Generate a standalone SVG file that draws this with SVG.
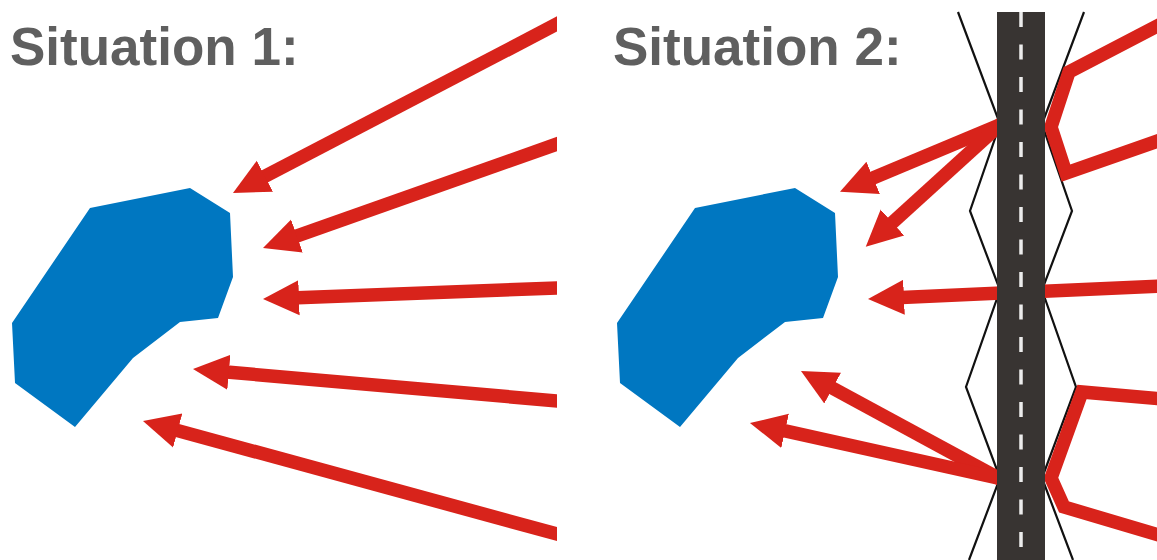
<svg xmlns="http://www.w3.org/2000/svg" width="1157" height="560" viewBox="0 0 1157 560">
  <style>
    .title { font-family: "Liberation Sans", Arial, sans-serif; font-weight: bold; font-size: 53px; fill: #5f5f5f; }
    .blob { fill: #0077c1; }
    .arrow { stroke: #d8231b; stroke-width: 13.5; fill: none; stroke-linecap: butt; marker-end: url(#ah); }
    .route { stroke: #d8231b; stroke-width: 13.5; fill: none; stroke-linejoin: miter; stroke-miterlimit: 10; }
    .zig { stroke: #111111; stroke-width: 2.2; fill: none; stroke-linejoin: miter; }
    .road { fill: #383432; }
    .lane { stroke: #ececec; stroke-width: 3.5; stroke-dasharray: 15 17.5; }
  </style>
  <defs>
    <marker id="ah" markerUnits="userSpaceOnUse" markerWidth="38" markerHeight="38" viewBox="0 -19 38 38" refX="8" refY="0" orient="auto">
      <path d="M0,-17.5 L36,0 L0,17.5 z" fill="#d8231b"/>
    </marker>
    <clipPath id="leftClip">
      <rect x="0" y="0" width="557" height="560"/>
    </clipPath>
    <polygon id="blobShape" points="90,208 190,188 230,213 233,277 218,318 180,322 133,358 75,427 15,383 12,323"/>
  </defs>
  <rect width="1157" height="560" fill="#ffffff"/>

  <g id="title1"><text class="title" x="10" y="65">Situation 1:</text></g>
  <g id="title2"><text class="title" x="613" y="65">Situation 2:</text></g>

  <g id="area1"><use href="#blobShape" class="blob"/></g>
  <g id="area2"><use href="#blobShape" class="blob" transform="translate(605,0)"/></g>

  <g id="zigzags">
    <polyline class="zig" points="958,12 1000,124 970,211 1000,290 966,387 1000,478 969,560"/>
    <polyline class="zig" points="1084,12 1042,124 1072,211 1042,290 1076,387 1042,478 1073,560"/>
  </g>

  <g id="connectors">
    <g id="connectors-left" clip-path="url(#leftClip)">
      <line class="arrow" x1="570" y1="17.2" x2="257.8" y2="180"/>
      <line class="arrow" x1="570" y1="139.4" x2="289.4" y2="238.7"/>
      <line class="arrow" x1="570" y1="287.5" x2="291" y2="298"/>
      <line class="arrow" x1="570" y1="402.1" x2="220.9" y2="371.5"/>
      <line class="arrow" x1="570" y1="537.6" x2="170" y2="428.4"/>
    </g>
    <g id="connectors-right">
      <line class="arrow" x1="1002" y1="124" x2="865.8" y2="181"/>
      <line class="arrow" x1="1002" y1="123" x2="886.5" y2="227.9"/>
      <line class="arrow" x1="1160" y1="286" x2="896" y2="297.7"/>
      <line class="arrow" x1="1002" y1="480" x2="825.6" y2="384.4"/>
      <line class="arrow" x1="1002" y1="479" x2="777.3" y2="429.1"/>
      <polyline class="route" points="1162,23.5 1069,72 1051,127 1066,173 1162,139.5"/>
      <polyline class="route" points="1162,399 1082,392 1051,478 1064,507 1162,536"/>
    </g>
  </g>

  <g id="road">
    <rect class="road" x="997" y="12" width="48" height="548"/>
    <line class="lane" x1="1021" y1="12" x2="1021" y2="560"/>
  </g>
</svg>
